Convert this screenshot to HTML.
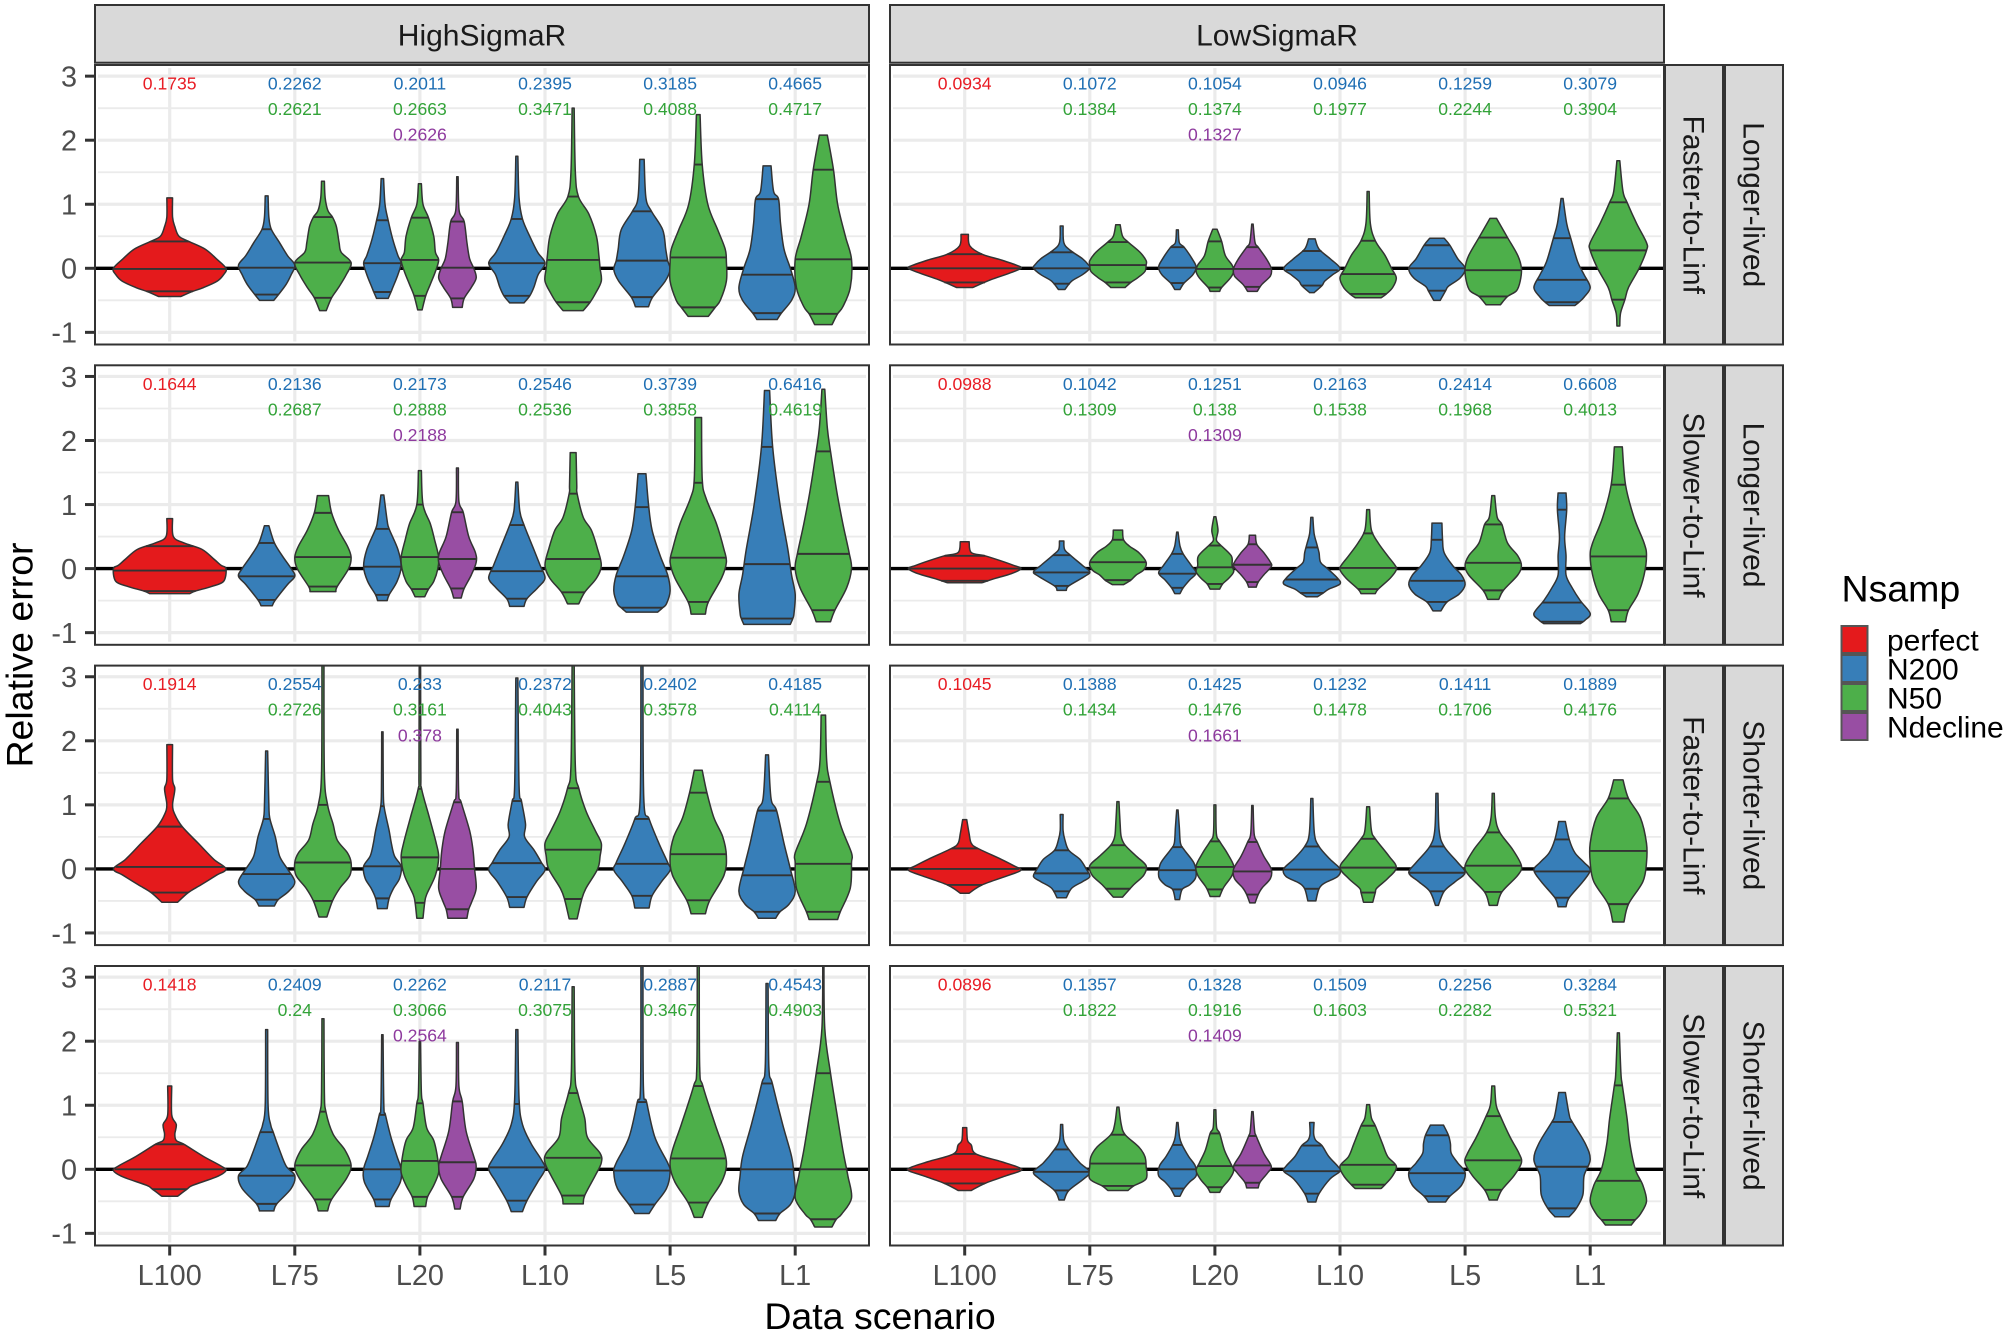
<!DOCTYPE html>
<html lang="en">
<head>
<meta charset="utf-8">
<title>Relative error violin chart</title>
<style>
html,body{margin:0;padding:0;background:#fff;}
svg{display:block;font-family:"Liberation Sans",Arial,sans-serif;}
</style>
</head>
<body>
<svg id="chart" xmlns="http://www.w3.org/2000/svg" width="2008" height="1335" viewBox="0 0 2008 1335">
  <rect width="2008" height="1335" fill="#fff"/>
  <g id="panels"></g>

  <g>
    <rect x="95" y="5" width="774" height="57.7" fill="#d9d9d9" stroke="#333" stroke-width="2"/>
    <text x="482" y="45.5" font-size="30" fill="#1a1a1a" text-anchor="middle">HighSigmaR</text>
    <rect x="890" y="5" width="774" height="57.7" fill="#d9d9d9" stroke="#333" stroke-width="2"/>
    <text x="1277" y="45.5" font-size="30" fill="#1a1a1a" text-anchor="middle">LowSigmaR</text>
  </g>

  <g fill="#d9d9d9" stroke="#333" stroke-width="2">
    <rect x="1665" y="65" width="58" height="279.5"/>
    <rect x="1725" y="65" width="58" height="279.5"/>
    <rect x="1665" y="365.3" width="58" height="279.5"/>
    <rect x="1725" y="365.3" width="58" height="279.5"/>
    <rect x="1665" y="665.6" width="58" height="279.5"/>
    <rect x="1725" y="665.6" width="58" height="279.5"/>
    <rect x="1665" y="966" width="58" height="279.5"/>
    <rect x="1725" y="966" width="58" height="279.5"/>
  </g>
  <g font-size="30" fill="#1a1a1a" text-anchor="middle">
    <text transform="translate(1683.5,204.7) rotate(90)">Faster-to-Linf</text>
    <text transform="translate(1743.5,204.7) rotate(90)">Longer-lived</text>
    <text transform="translate(1683.5,505) rotate(90)">Slower-to-Linf</text>
    <text transform="translate(1743.5,505) rotate(90)">Longer-lived</text>
    <text transform="translate(1683.5,805.3) rotate(90)">Faster-to-Linf</text>
    <text transform="translate(1743.5,805.3) rotate(90)">Shorter-lived</text>
    <text transform="translate(1683.5,1105.7) rotate(90)">Slower-to-Linf</text>
    <text transform="translate(1743.5,1105.7) rotate(90)">Shorter-lived</text>
  </g>

  <text transform="translate(32.5,655) rotate(-90)" font-size="37.5" fill="#000" text-anchor="middle">Relative error</text>
  <text x="880" y="1329" font-size="37.5" fill="#000" text-anchor="middle">Data scenario</text>

  <g>
    <text x="1841.5" y="601.5" font-size="37.5" fill="#000">Nsamp</text>
    <g>
      <rect x="1841.5" y="626" width="26" height="27" fill="#e41a1c" stroke="#555" stroke-width="2"/>
      <text x="1887" y="650.5" font-size="30" fill="#000">perfect</text>
    </g>
    <g>
      <rect x="1841.5" y="655" width="26" height="27" fill="#377eb8" stroke="#555" stroke-width="2"/>
      <text x="1887" y="679.5" font-size="30" fill="#000">N200</text>
    </g>
    <g>
      <rect x="1841.5" y="684" width="26" height="27" fill="#4daf4a" stroke="#555" stroke-width="2"/>
      <text x="1887" y="708.5" font-size="30" fill="#000">N50</text>
    </g>
    <g>
      <rect x="1841.5" y="713" width="26" height="27" fill="#984ea3" stroke="#555" stroke-width="2"/>
      <text x="1887" y="737.5" font-size="30" fill="#000">Ndecline</text>
    </g>
  </g>
</svg>

<script>
// ---- categories and ticks ----
const categories = ["L100","L75","L20","L10","L5","L1"];
const scenarioSeries = [["perfect"],["N200","N50"],["N200","N50","Ndecline"],["N200","N50"],["N200","N50"],["N200","N50"]];
const yMajorTicks = [3,2,1,0,-1];
const yMinorTicks = [2.5,1.5,0.5,-0.5];
const yTickLabels = ["3","2","1","0","-1"];

// ---- printed values (one list per panel, same order as scenarioSeries) ----
const labelsHighFastLong = [.1735,.2262,.2621,.2011,.2663,.2626,.2395,.3471,.3185,.4088,.4665,.4717];
const labelsLowFastLong  = [.0934,.1072,.1384,.1054,.1374,.1327,.0946,.1977,.1259,.2244,.3079,.3904];
const labelsHighSlowLong = [.1644,.2136,.2687,.2173,.2888,.2188,.2546,.2536,.3739,.3858,.6416,.4619];
const labelsLowSlowLong  = [.0988,.1042,.1309,.1251,.138,.1309,.2163,.1538,.2414,.1968,.6608,.4013];
const labelsHighFastShort = [.1914,.2554,.2726,.233,.3161,.378,.2372,.4043,.2402,.3578,.4185,.4114];
const labelsLowFastShort  = [.1045,.1388,.1434,.1425,.1476,.1661,.1232,.1478,.1411,.1706,.1889,.4176];
const labelsHighSlowShort = [.1418,.2409,.24,.2262,.3066,.2564,.2117,.3075,.2887,.3467,.4543,.4903];
const labelsLowSlowShort  = [.0896,.1357,.1822,.1328,.1916,.1409,.1509,.1603,.2256,.2282,.3284,.5321];

// ---- violins: [q25, median, q75, [value, relative density, ...] from top to bottom] ----
const violinsHighFastLong = [
[-.36,-.01,.42,[1.1,.03,.8,.03,.65,.06,.5,.12,.42,.28,.3,.58,.15,.8,0,1,-.1,.95,-.2,.82,-.3,.55,-.36,.35,-.44,.15]],
[-.41,.01,.61,[1.13,.03,.8,.05,.61,.12,.4,.4,.2,.7,.05,1,-.1,.85,-.25,.65,-.4,.38,-.5,.2]],
[-.46,.09,.8,[1.36,.03,1.1,.05,.9,.13,.8,.28,.65,.42,.4,.52,.25,.6,.09,1,-.1,.8,-.3,.5,-.46,.25,-.66,.08]],
[-.37,.08,.75,[1.4,.04,1,.1,.75,.25,.45,.5,.2,.8,.08,1,-.1,.8,-.3,.5,-.37,.4,-.47,.25]],
[-.43,.13,.79,[1.32,.05,1,.12,.79,.4,.5,.7,.25,.8,.13,1,-.05,.8,-.25,.5,-.43,.25,-.65,.08]],
[-.47,.01,.73,[1.43,.02,.9,.06,.73,.3,.4,.45,.15,.6,0,.85,-.15,1,-.3,.7,-.47,.3,-.61,.2]],
[-.43,.08,.77,[1.75,.02,1.1,.05,.77,.15,.5,.4,.25,.7,.08,1,-.1,.72,-.3,.55,-.43,.4,-.54,.2]],
[-.53,.13,1.12,[2.5,.02,1.5,.05,1.12,.14,.85,.5,.5,.8,.2,.9,0,.95,-.2,1,-.4,.75,-.53,.55,-.66,.3]],
[-.45,.12,.89,[1.7,.05,1.1,.1,.89,.28,.6,.7,.3,.82,.12,.9,-.02,1,-.2,.8,-.45,.32,-.6,.18]],
[-.61,.17,1.62,[2.4,.04,1.62,.1,1,.28,.6,.65,.3,.95,.1,1,-.2,1,-.5,.75,-.61,.55,-.75,.3]],
[-.7,-.1,1.08,[1.6,.1,1.2,.18,1.08,.35,.7,.42,.3,.55,0,.8,-.3,1,-.5,.85,-.7,.45,-.8,.3]],
[-.71,.14,1.54,[2.08,.1,1.54,.3,1,.45,.5,.75,.14,1,-.3,.95,-.6,.65,-.71,.45,-.88,.25]]
];
const violinsLowFastLong = [
[-.22,0,.22,[.53,.04,.35,.06,.22,.25,.13,.6,.05,.9,0,1,-.08,.75,-.18,.4,-.3,.1]],
[-.24,0,.25,[.66,.03,.4,.05,.28,.25,.15,.7,.05,.95,0,1,-.1,.7,-.2,.3,-.33,.08]],
[-.22,.05,.41,[.68,.05,.5,.12,.41,.3,.25,.75,.12,1,.05,1,-.05,.95,-.15,.65,-.22,.4,-.3,.2]],
[-.23,.01,.33,[.6,.03,.4,.07,.33,.3,.15,.75,.02,1,-.1,.8,-.23,.3,-.33,.1]],
[-.3,-.01,.42,[.61,.08,.42,.3,.2,.5,.05,.9,-.05,1,-.15,.8,-.3,.3,-.36,.2]],
[-.29,-.01,.33,[.69,.02,.4,.1,.33,.25,.15,.7,0,1,-.12,.95,-.25,.45,-.36,.2]],
[-.27,-.03,.27,[.46,.08,.3,.2,.15,.6,0,1,-.1,.7,-.2,.4,-.27,.3,-.38,.05]],
[-.4,-.09,.43,[1.2,.02,.7,.05,.43,.2,.2,.55,0,.8,-.15,1,-.3,.85,-.4,.6,-.46,.4]],
[-.35,0,.36,[.47,.2,.36,.4,.15,.7,0,1,-.15,.8,-.28,.35,-.35,.25,-.5,.08]],
[-.44,-.03,.48,[.78,.08,.48,.45,.2,.85,0,1,-.2,.95,-.35,.8,-.44,.45,-.57,.2]],
[-.53,-.18,.47,[1.09,.02,.7,.12,.47,.25,.1,.5,-.1,.75,-.3,1,-.45,.75,-.53,.55,-.58,.4]],
[-.49,.28,1.03,[1.68,.03,1.2,.12,1.03,.25,.7,.6,.4,1,.28,1,0,.7,-.3,.3,-.49,.18,-.7,.05,-.9,.03]]
];
const violinsHighSlowLong = [
[-.35,-.03,.35,[.78,.03,.5,.04,.4,.2,.3,.52,.15,.75,.05,.9,0,1,-.2,.95,-.28,.7,-.35,.4,-.39,.3]],
[-.49,-.12,.4,[.67,.05,.4,.22,.2,.5,0,.85,-.12,1,-.25,.7,-.49,.25,-.58,.15]],
[-.28,.18,.87,[1.14,.15,.87,.25,.6,.5,.35,.85,.18,1,0,.9,-.28,.45,-.36,.4]],
[-.41,.03,.62,[1.15,.05,.75,.2,.62,.3,.3,.8,.03,1,-.2,.75,-.41,.3,-.5,.2]],
[-.32,.18,1,[1.53,.05,1,.12,.7,.5,.45,.75,.18,1,0,.95,-.2,.7,-.32,.4,-.44,.2]],
[-.31,.15,.88,[1.57,.03,1.05,.05,.88,.25,.5,.55,.25,.95,.1,1,-.1,.7,-.31,.3,-.46,.15]],
[-.47,-.04,.68,[1.35,.02,.9,.07,.68,.2,.3,.55,.05,.8,-.15,1,-.3,.7,-.47,.3,-.59,.2]],
[-.37,.15,1.17,[1.81,.07,1.3,.09,1.17,.1,.8,.3,.6,.6,.3,.85,.05,1,-.15,.8,-.37,.35,-.55,.15]],
[-.61,-.12,.96,[1.48,.1,1,.18,.6,.3,.2,.6,-.1,.9,-.35,1,-.55,.85,-.61,.7,-.68,.5]],
[-.52,.17,1.34,[2.36,.08,1.4,.1,1.1,.22,.7,.6,.3,.9,.1,1,-.15,.8,-.52,.3,-.71,.2]],
[-.78,.07,1.9,[2.78,.06,1.9,.15,1,.4,.3,.7,-.1,.85,-.4,1,-.7,.95,-.78,.9,-.87,.8]],
[-.65,.23,1.83,[2.8,.03,2.2,.1,1.83,.2,1.2,.42,.7,.65,.25,.9,0,1,-.3,.8,-.65,.35,-.83,.2]]
];
const violinsLowSlowLong = [
[-.19,0,.2,[.42,.05,.25,.08,.2,.3,.12,.6,.05,.85,0,1,-.08,.8,-.15,.5,-.22,.25]],
[-.27,-.06,.21,[.43,.05,.3,.07,.21,.25,.05,.7,-.05,1,-.12,.8,-.27,.2,-.34,.12]],
[-.18,.1,.45,[.6,.12,.45,.15,.35,.35,.25,.7,.1,1,-.02,.9,-.1,.6,-.18,.4,-.25,.15]],
[-.3,-.08,.23,[.57,.02,.35,.1,.23,.25,.05,.7,-.07,1,-.18,.6,-.3,.25,-.39,.1]],
[-.24,.02,.36,[.81,.03,.6,.12,.45,.05,.38,.2,.2,.85,.05,.9,-.05,1,-.15,.7,-.24,.35,-.32,.2]],
[-.21,.06,.38,[.52,.12,.38,.18,.25,.55,.1,.95,.03,1,-.1,.55,-.21,.25,-.29,.15]],
[-.38,-.17,.33,[.8,.02,.55,.05,.4,.12,.25,.2,.1,.25,0,.5,-.15,.9,-.24,1,-.32,.55,-.38,.35,-.44,.15]],
[-.32,.01,.55,[.92,.03,.6,.08,.4,.3,.2,.65,.05,.95,-.02,1,-.15,.75,-.32,.3,-.39,.2]],
[-.52,-.19,.45,[.71,.13,.45,.15,.25,.2,.05,.5,-.1,.85,-.25,1,-.4,.75,-.52,.3,-.66,.1]],
[-.34,.09,.69,[1.14,.03,.8,.1,.69,.25,.4,.45,.2,.85,.05,1,-.1,.85,-.34,.3,-.48,.15]],
[-.83,-.53,.92,[1.18,.1,.92,.12,.5,.06,.2,.1,-.1,.1,-.3,.3,-.5,.6,-.7,1,-.8,.8,-.86,.6]],
[-.65,.19,1.31,[1.9,.1,1.31,.2,.8,.5,.4,.9,.2,1,-.1,.9,-.4,.65,-.65,.3,-.83,.2]]
];
const violinsHighFastShort = [
[-.37,.03,.66,[1.94,.03,1.4,.03,1.25,.06,1,.03,.85,.06,.66,.17,.4,.45,.15,.75,0,1,-.1,.8,-.25,.5,-.37,.27,-.52,.1]],
[-.48,-.08,.78,[1.84,.02,1,.05,.78,.08,.5,.25,.2,.4,0,.7,-.2,1,-.35,.75,-.48,.35,-.58,.22]],
[-.5,.1,1,[3.25,.02,1.5,.03,1,.12,.7,.3,.45,.45,.25,.85,.1,1,-.1,.95,-.3,.55,-.5,.28,-.75,.1]],
[-.46,.04,.98,[2.14,.02,1.2,.03,.95,.07,.6,.3,.4,.42,.2,.6,.04,1,-.15,.9,-.3,.55,-.46,.3,-.62,.2]],
[-.53,.18,1.25,[3.25,.02,1.5,.03,1.25,.06,.8,.45,.4,.85,.18,1,-.1,.8,-.4,.3,-.53,.2,-.77,.12]],
[-.63,0,1.04,[2.18,.02,1.2,.04,1.04,.15,.6,.6,.3,.8,0,.9,-.3,1,-.5,.75,-.63,.55,-.77,.45]],
[-.44,.09,1.06,[2.98,.02,1.3,.05,1.06,.12,.7,.25,.5,.22,.3,.55,.1,.85,-.02,1,-.2,.65,-.44,.3,-.6,.2]],
[-.47,.3,1.26,[3.25,.02,1.6,.05,1.26,.15,.9,.4,.6,.75,.4,1,.2,.95,0,.85,-.3,.4,-.47,.25,-.78,.1]],
[-.42,.08,.78,[3.25,.02,1.1,.04,.78,.2,.4,.55,.1,.9,-.02,1,-.2,.65,-.42,.3,-.61,.2]],
[-.49,.23,1.19,[1.54,.1,1.19,.25,.8,.5,.5,.85,.2,1,-.1,.9,-.49,.35,-.7,.2]],
[-.67,-.1,.91,[1.78,.03,1.1,.1,.91,.28,.4,.55,0,.8,-.35,1,-.55,.75,-.67,.4,-.77,.25]],
[-.67,.08,1.36,[2.4,.05,1.7,.08,1.36,.18,.7,.55,.25,1,.1,1,-.3,.95,-.67,.55,-.79,.45]]
];
const violinsLowFastShort = [
[-.25,0,.32,[.77,.02,.55,.05,.4,.08,.32,.18,.15,.6,.05,.85,-.02,1,-.1,.75,-.25,.25,-.38,.05]],
[-.35,-.07,.29,[.85,.03,.6,.03,.45,.08,.29,.2,.15,.6,0,.85,-.12,1,-.2,.7,-.3,.3,-.45,.12]],
[-.31,.02,.37,[1.05,.02,.7,.05,.5,.08,.37,.2,.2,.6,.05,1,-.1,.9,-.25,.5,-.44,.12]],
[-.32,-.02,.34,[.92,.02,.65,.07,.4,.12,.3,.3,.1,.85,-.05,1,-.15,.95,-.25,.6,-.32,.2,-.48,.08]],
[-.32,.03,.43,[1,.03,.55,.05,.43,.2,.25,.6,.05,1,-.1,.9,-.25,.5,-.32,.35,-.43,.2]],
[-.4,-.04,.42,[.99,.02,.55,.06,.42,.2,.2,.55,0,1,-.15,.95,-.3,.45,-.4,.25,-.53,.1]],
[-.31,-.01,.35,[1.1,.02,.55,.06,.35,.2,.15,.6,0,1,-.12,.9,-.22,.4,-.31,.2,-.5,.1]],
[-.37,.02,.47,[.97,.03,.6,.08,.47,.2,.2,.7,.02,1,-.15,.65,-.3,.25,-.37,.2,-.52,.12]],
[-.35,-.06,.35,[1.18,.02,.6,.05,.35,.2,.1,.7,-.06,1,-.2,.6,-.35,.2,-.57,.03]],
[-.36,.05,.57,[1.18,.02,.8,.05,.57,.18,.3,.65,.05,1,-.1,.85,-.36,.25,-.57,.1]],
[-.45,-.04,.46,[.74,.08,.46,.2,.25,.4,.1,.75,-.02,1,-.2,.7,-.45,.2,-.59,.1]],
[-.55,.28,1.1,[1.39,.12,1.1,.3,.8,.75,.4,1,.1,1,-.2,.85,-.55,.3,-.83,.15]]
];
const violinsHighSlowShort = [
[-.31,0,.39,[1.3,.02,.85,.02,.7,.08,.55,.06,.45,.08,.39,.2,.2,.55,.05,.9,-.02,1,-.12,.8,-.25,.35,-.31,.25,-.42,.1]],
[-.54,-.1,.58,[2.18,.02,1,.03,.7,.1,.58,.18,.3,.4,.05,.65,-.1,1,-.3,.85,-.54,.3,-.65,.2]],
[-.47,.06,.9,[2.35,.02,1.2,.03,.9,.07,.55,.3,.3,.75,.06,1,-.15,.8,-.47,.25,-.65,.12]],
[-.47,0,.85,[2.1,.02,1,.05,.85,.12,.5,.4,.2,.75,0,1,-.2,.95,-.47,.4,-.58,.3]],
[-.43,.13,1.03,[2,.02,1.2,.05,1.03,.12,.65,.3,.45,.7,.15,.95,-.05,1,-.25,.7,-.43,.35,-.58,.25]],
[-.43,.11,1.06,[1.98,.03,1.3,.05,1.06,.2,.6,.4,.2,.85,.05,1,-.15,.85,-.43,.25,-.62,.1]],
[-.49,.03,1.02,[2.18,.02,1.1,.05,.7,.15,.4,.45,.15,.85,0,1,-.2,.7,-.49,.3,-.66,.15]],
[-.41,.18,1.19,[2.85,.02,1.5,.04,1.19,.12,.8,.35,.5,.45,.25,.95,.1,1,-.1,.75,-.41,.35,-.54,.3]],
[-.55,-.02,1.05,[3.25,.02,1.3,.03,1.05,.12,.5,.4,.1,.9,-.05,1,-.3,.85,-.55,.4,-.69,.2]],
[-.52,.17,1.3,[3.25,.02,1.6,.03,1.3,.12,.7,.55,.3,.9,.05,1,-.2,.8,-.52,.3,-.75,.1]],
[-.69,0,1.34,[2.9,.02,1.6,.04,1.34,.14,.7,.5,.2,.85,-.1,.95,-.35,1,-.55,.8,-.69,.4,-.8,.25]],
[-.78,0,1.5,[3.25,.01,2.2,.03,1.5,.2,.8,.45,.3,.65,-.1,.85,-.45,1,-.7,.6,-.78,.4,-.9,.25]]
];
const violinsLowSlowShort = [
[-.22,0,.24,[.65,.02,.45,.03,.38,.08,.24,.15,.12,.6,.03,.95,-.02,1,-.1,.7,-.22,.3,-.33,.08]],
[-.33,-.04,.31,[.7,.02,.45,.05,.31,.2,.1,.6,-.04,1,-.15,.75,-.33,.2,-.48,.06]],
[-.26,.09,.54,[.97,.02,.7,.08,.54,.2,.35,.7,.2,.95,.05,1,-.15,1,-.26,.5,-.33,.3]],
[-.3,0,.38,[.73,.02,.5,.08,.38,.2,.2,.55,.05,.95,-.1,1,-.2,.6,-.3,.3,-.42,.1]],
[-.28,.05,.56,[.93,.03,.65,.06,.56,.2,.3,.45,.1,.8,-.02,1,-.15,.75,-.28,.35,-.36,.2]],
[-.21,.06,.52,[.9,.02,.6,.08,.52,.15,.25,.55,.05,1,-.05,.8,-.2,.35,-.29,.25]],
[-.38,-.03,.37,[.73,.05,.55,.04,.45,.1,.37,.3,.2,.55,.05,.9,-.03,1,-.15,.6,-.38,.2,-.51,.1]],
[-.24,.07,.68,[1.01,.03,.8,.08,.68,.2,.4,.45,.2,.65,.05,1,-.1,.85,-.24,.55,-.3,.4]],
[-.42,-.06,.53,[.69,.18,.53,.35,.4,.42,.25,.45,.1,.7,-.05,1,-.25,.85,-.42,.4,-.51,.25]],
[-.32,.14,.83,[1.3,.03,1,.07,.83,.2,.5,.55,.25,.9,.1,1,-.1,.7,-.32,.25,-.48,.1]],
[-.61,.04,.74,[1.2,.08,.85,.2,.74,.3,.4,.8,.15,1,-.1,.75,-.4,.7,-.61,.45,-.74,.2]],
[-.79,-.18,1.31,[2.13,.02,1.5,.06,1.31,.1,.8,.25,.4,.35,0,.55,-.25,.85,-.5,1,-.7,.75,-.79,.55,-.87,.4]]
];

const panelViolins = [violinsHighFastLong,violinsLowFastLong,violinsHighSlowLong,violinsLowSlowLong,violinsHighFastShort,violinsLowFastShort,violinsHighSlowShort,violinsLowSlowShort];
const panelLabels = [labelsHighFastLong,labelsLowFastLong,labelsHighSlowLong,labelsLowSlowLong,labelsHighFastShort,labelsLowFastShort,labelsHighSlowShort,labelsLowSlowShort];
const seriesFill = {perfect:"#e41a1c",N200:"#377eb8",N50:"#4daf4a",Ndecline:"#984ea3"};
const seriesText = {perfect:"#e81c24",N200:"#1f6fb4",N50:"#33a339",Ndecline:"#8e3a9e"};

// ---- layout ----
const NS = "http://www.w3.org/2000/svg";
const panelLeft = [95,890], panelTop = [65,365.3,665.6,966];
const panelW = 774, panelH = 279.5;
const zeroOffset = 203.3, unitPx = 64.05, catStart = 74.7, catStep = 125.1;
const labelRows = [2.89,2.49,2.09];
const shapeGamma = 0.85;
const root = document.getElementById("panels");

function xScale(col,i){ return panelLeft[col]+catStart+catStep*i; }
function yScale(row,v){ return panelTop[row]+zeroOffset-v*unitPx; }
function widthScale(d,half){ return Math.pow(d,shapeGamma)*half; }
function mk(tag,attrs,parent){
  const el = document.createElementNS(NS,tag);
  for(const k in attrs) el.setAttribute(k,attrs[k]);
  parent.appendChild(el);
  return el;
}
function widthAt(prof,v){
  for(let i=0;i<prof.length-2;i+=2){
    const y1=prof[i],w1=prof[i+1],y2=prof[i+2],w2=prof[i+3];
    if(v<=y1&&v>=y2) return w1+(w2-w1)*(y1-v)/(y1-y2);
  }
  return prof[prof.length-1];
}
function segs(p){
  let d="";
  for(let i=0;i<p.length-1;i++){
    const a=p[Math.max(i-1,0)],b=p[i],c=p[i+1],e=p[Math.min(i+2,p.length-1)];
    const c1x=b[0]+(c[0]-a[0])/6,c1y=b[1]+(c[1]-a[1])/6;
    const c2x=c[0]-(e[0]-b[0])/6,c2y=c[1]-(e[1]-b[1])/6;
    d+="C"+c1x.toFixed(2)+" "+c1y.toFixed(2)+" "+c2x.toFixed(2)+" "+c2y.toFixed(2)+" "+c[0].toFixed(2)+" "+c[1].toFixed(2);
  }
  return d;
}
function violinPath(row,cx,half,prof){
  const left=[],right=[];
  for(let i=0;i<prof.length;i+=2){
    const y=yScale(row,prof[i]),h=widthScale(prof[i+1],half);
    left.push([cx-h,y]); right.push([cx+h,y]);
  }
  right.reverse();
  return "M"+left[0][0].toFixed(2)+" "+left[0][1].toFixed(2)+segs(left)+"L"+right[0][0].toFixed(2)+" "+right[0][1].toFixed(2)+segs(right)+"Z";
}

for(let r=0;r<4;r++){
  for(let c=0;c<2;c++){
    const px=panelLeft[c],py=panelTop[r];
    const g=mk("g",{},root);
    
    
    const bg=mk("rect",{x:px,y:py,width:panelW,height:panelH,fill:"#fff"},g);
    
    
    const cp=mk("clipPath",{id:"clip"+r+c},g);
    mk("rect",{x:px,y:py,width:panelW,height:panelH},cp);

    yMinorTicks.forEach(v=>{
      const l=mk("line",{x1:px+3,x2:px+panelW-3,y1:yScale(r,v),y2:yScale(r,v),stroke:"#ebebeb","stroke-width":1.8},g);
      
      
    });
    yMajorTicks.forEach(v=>{
      const l=mk("line",{x1:px+3,x2:px+panelW-3,y1:yScale(r,v),y2:yScale(r,v),stroke:"#ebebeb","stroke-width":3.2},g);
      
      
    });
    categories.forEach((cat,i)=>{
      const l=mk("line",{x1:xScale(c,i),x2:xScale(c,i),y1:py+3,y2:py+panelH-3,stroke:"#ebebeb","stroke-width":3.2},g);
      
      
    });

    const zero=mk("line",{x1:px,x2:px+panelW,y1:yScale(r,0),y2:yScale(r,0),stroke:"#000","stroke-width":3.4},g);
    
    

    const clipG=mk("g",{"clip-path":"url(#clip"+r+c+")"},g);
    const data=panelViolins[r*2+c];
    const labels=panelLabels[r*2+c];
    let idx=0;
    scenarioSeries.forEach((series,i)=>{
      const n=series.length;
      const w=0.9*catStep/n;
      series.forEach((s,k)=>{
        const v=data[idx];
        const cx=xScale(c,i)+(k-(n-1)/2)*w;
        const half=w/2;
        const path=mk("path",{d:violinPath(r,cx,half,v[3]),fill:seriesFill[s],stroke:"#333","stroke-width":1.5,"stroke-linejoin":"round"},clipG);
        
        
        for(let q=0;q<3;q++){
          const hw=widthScale(widthAt(v[3],v[q]),half);
          const ql=mk("line",{x1:cx-hw,x2:cx+hw,y1:yScale(r,v[q]),y2:yScale(r,v[q]),stroke:"#333","stroke-width":1.9},clipG);
          
          
        }
        idx++;
      });
    });

    idx=0;
    scenarioSeries.forEach((series,i)=>{
      series.forEach((s,k)=>{
        const t=mk("text",{x:xScale(c,i),y:yScale(r,labelRows[k])+6.3,"font-size":17.6,fill:seriesText[s],"text-anchor":"middle"},g);
        
        
        t.textContent=String(labels[idx]);
        idx++;
      });
    });

    const border=mk("rect",{x:px,y:py,width:panelW,height:panelH,fill:"none",stroke:"#333","stroke-width":2},g);
    
    

    if(c===0){
      yMajorTicks.forEach((v,i)=>{
        const tk=mk("line",{x1:85,x2:px,y1:yScale(r,v),y2:yScale(r,v),stroke:"#333","stroke-width":3},g);
        
        
        const tl=mk("text",{x:77,y:yScale(r,v)+10.3,"font-size":28.8,fill:"#4d4d4d","text-anchor":"end"},g);
        
        
        tl.textContent=yTickLabels[i];
      });
    }
    if(r===3){
      categories.forEach((cat,i)=>{
        const tk=mk("line",{x1:xScale(c,i),x2:xScale(c,i),y1:py+panelH,y2:py+panelH+10,stroke:"#333","stroke-width":3},g);
        
        
        const tl=mk("text",{x:xScale(c,i),y:1285,"font-size":28.8,fill:"#4d4d4d","text-anchor":"middle"},g);
        
        
        tl.textContent=cat;
      });
    }
  }
}
</script>
</body>
</html>
